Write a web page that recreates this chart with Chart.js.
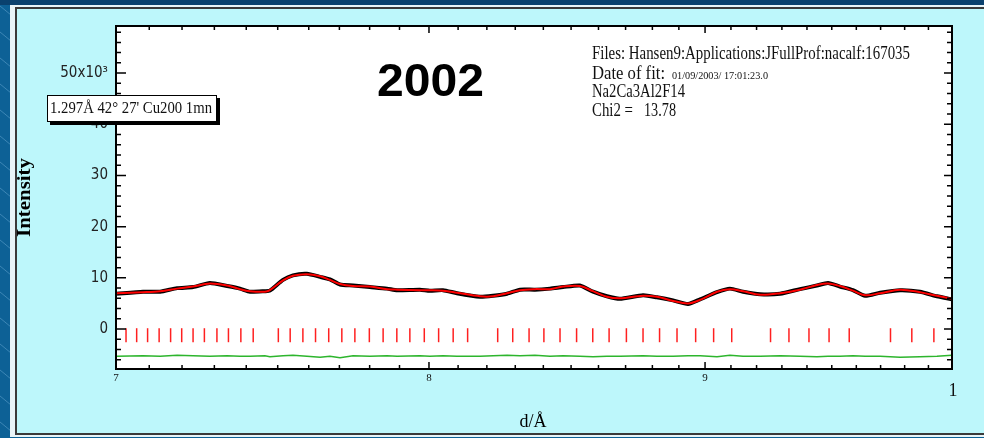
<!DOCTYPE html>
<html>
<head>
<meta charset="utf-8">
<script src="https://cdn.jsdelivr.net/npm/chart.js@4.4.1/dist/chart.umd.min.js"></script>
<style>
  html, body { margin: 0; padding: 0; background: #0d6196; }
  #wrap { width: 984px; height: 438px; }
</style>
</head>
<body>
<div id="wrap"><canvas id="chart" width="984" height="438"></canvas></div>
<script>
// --- data (d in Angstrom, intensity in 10^3 counts) ---
const dValues = [0.7003, 0.7081, 0.7133, 0.7185, 0.7234, 0.7286, 0.7340, 0.7380, 0.7412, 0.7459,
  0.7475, 0.7517, 0.7549, 0.7594, 0.7637, 0.7669, 0.7702, 0.7745, 0.7801, 0.7858,
  0.7892, 0.7969, 0.8003, 0.8048, 0.8096, 0.8176, 0.8222, 0.8271, 0.8317, 0.8370,
  0.8424, 0.8471, 0.8532, 0.8580, 0.8631, 0.8679, 0.8765, 0.8817, 0.8878, 0.8935,
  0.8981, 0.9046, 0.9096, 0.9147, 0.9214, 0.9293, 0.9372, 0.9440, 0.9485, 0.9533,
  0.9586, 0.9636, 0.9698, 0.9781, 0.9864, 0.9936, 1.0000];

const calcValues = [7.0, 7.2, 7.4, 7.9, 8.3, 8.9, 8.5, 7.8, 7.4, 7.3,
  7.6, 9.5, 10.4, 10.7, 10.3, 9.6, 8.8, 8.4, 8.3, 7.8,
  7.7, 7.6, 7.6, 7.5, 7.1, 6.4, 6.4, 7.0, 7.6, 7.8,
  7.8, 8.3, 8.4, 7.4, 6.3, 6.0, 6.5, 6.3, 5.5, 5.0,
  5.7, 7.3, 7.8, 7.4, 6.7, 7.0, 7.7, 8.6, 8.9, 8.4,
  7.5, 6.6, 7.0, 7.7, 7.2, 6.5, 5.9];

const obsValues = [6.9, 7.3, 7.3, 8.0, 8.2, 9.0, 8.4, 7.9, 7.3, 7.4,
  7.5, 9.6, 10.5, 10.8, 10.2, 9.7, 8.7, 8.5, 8.2, 7.9,
  7.6, 7.7, 7.5, 7.6, 7.0, 6.3, 6.5, 6.9, 7.7, 7.7,
  7.9, 8.2, 8.5, 7.3, 6.4, 5.9, 6.6, 6.2, 5.6, 4.9,
  5.8, 7.2, 7.9, 7.3, 6.8, 6.9, 7.8, 8.5, 9.0, 8.3,
  7.6, 6.5, 7.1, 7.6, 7.3, 6.4, 5.8];

const diffValues = [-5.3, -5.2, -5.3, -5.1, -5.2, -5.3, -5.2, -5.3, -5.3, -5.2,
  -5.4, -5.2, -5.1, -5.3, -5.5, -5.3, -5.6, -5.2, -5.3, -5.2,
  -5.3, -5.2, -5.3, -5.2, -5.3, -5.3, -5.2, -5.1, -5.2, -5.1,
  -5.3, -5.2, -5.3, -5.4, -5.3, -5.3, -5.2, -5.3, -5.3, -5.2,
  -5.2, -5.4, -5.1, -5.3, -5.3, -5.2, -5.3, -5.4, -5.3, -5.3,
  -5.2, -5.3, -5.3, -5.5, -5.4, -5.3, -5.1];

// Bragg reflection positions
const braggD = [0.7030, 0.7062, 0.7095, 0.7130, 0.7165, 0.7199, 0.7234, 0.7269, 0.7308, 0.7344,
  0.7383, 0.7422, 0.7502, 0.7540, 0.7581, 0.7622, 0.7665, 0.7708, 0.7751, 0.7799,
  0.7845, 0.7891, 0.7935, 0.7984, 0.8033, 0.8083, 0.8133, 0.8238, 0.8291, 0.8349,
  0.8402, 0.8460, 0.8520, 0.8579, 0.8639, 0.8703, 0.8765, 0.8827, 0.8893, 0.8964,
  0.9033, 0.9103, 0.9255, 0.9328, 0.9408, 0.9489, 0.9571, 0.9741, 0.9830, 0.9923];
const braggLevel = -1.2;

// axes
const xMajorTicks = [0.7, 0.8, 0.9, 1.0];
const xTickLabels = ['7', '8', '9', '1'];
const xMinorTicks = [0.71, 0.72, 0.73, 0.74, 0.75, 0.76, 0.77, 0.78, 0.79,
  0.81, 0.82, 0.83, 0.84, 0.85, 0.86, 0.87, 0.88, 0.89,
  0.91, 0.92, 0.93, 0.94, 0.95, 0.96, 0.97, 0.98, 0.99];
const yTickValues = [0, 10, 20, 30, 40, 50];
const yTickLabels = ['0', '10', '20', '30', '40', '50x10\u00B3'];
const yMinorTicks = [-6, -4, -2, 2, 4, 6, 8, 12, 14, 16, 18, 22, 24, 26, 28,
  32, 34, 36, 38, 42, 44, 46, 48, 52, 54, 56, 58];

const SERIF = "'Liberation Serif', 'DejaVu Serif', serif";

// draw text squeezed to a given width (the original uses a narrow face)
function fitText(ctx, text, x, y, w) {
    const m = ctx.measureText(text).width;
    ctx.save();
    ctx.translate(x, y);
    ctx.scale(w / m, 1);
    ctx.textAlign = 'left';
    ctx.textBaseline = 'alphabetic';
    ctx.fillText(text, 0, 0);
    ctx.restore();
}

const framePlugin = {
    id: 'frame',
    beforeDraw(chart) {
        const ctx = chart.ctx;
        const a = chart.chartArea;
        ctx.save();
        // blue slide background
        ctx.fillStyle = '#0d6196';
        ctx.fillRect(0, 0, 984, 438);
        ctx.strokeStyle = 'rgba(120,180,220,0.45)';
        ctx.lineWidth = 1;
        for (let y = -20; y < 460; y += 26) {
            ctx.beginPath(); ctx.moveTo(0, y); ctx.lineTo(11, y + 9); ctx.stroke();
        }
        ctx.fillStyle = '#0a416e';
        ctx.fillRect(0, 0, 984, 5);
        // white edge + cyan panel
        ctx.fillStyle = '#e8f4f8';
        ctx.fillRect(10, 5, 974, 432);
        ctx.fillStyle = '#bdf7fb';
        ctx.fillRect(15, 8, 969, 427);
        ctx.strokeStyle = '#3a3a3a';
        ctx.lineWidth = 2;
        ctx.beginPath();
        ctx.moveTo(984, 8); ctx.lineTo(16, 8); ctx.lineTo(16, 434); ctx.lineTo(984, 434);
        ctx.stroke();
        // plot area
        ctx.fillStyle = '#ffffff';
        ctx.fillRect(a.left, a.top, a.right - a.left, a.bottom - a.top);
        ctx.restore();
    },
    afterDraw(chart) {
        const ctx = chart.ctx;
        const a = chart.chartArea;
        const xs = chart.scales.x, ys = chart.scales.y;
        ctx.save();
        ctx.strokeStyle = '#000';
        ctx.lineWidth = 2;
        ctx.strokeRect(a.left, a.top, a.right - a.left, a.bottom - a.top);

        // inward tick marks on all four sides
        ctx.lineWidth = 1.5;
        ctx.beginPath();
        xMajorTicks.forEach(v => {
            const px = xs.getPixelForValue(v);
            ctx.moveTo(px, a.bottom); ctx.lineTo(px, a.bottom - 7);
            ctx.moveTo(px, a.top); ctx.lineTo(px, a.top + 7);
        });
        xMinorTicks.forEach(v => {
            const px = xs.getPixelForValue(v);
            ctx.moveTo(px, a.bottom); ctx.lineTo(px, a.bottom - 4);
            ctx.moveTo(px, a.top); ctx.lineTo(px, a.top + 4);
        });
        yTickValues.forEach(v => {
            const py = ys.getPixelForValue(v);
            ctx.moveTo(a.left, py); ctx.lineTo(a.left + 10, py);
            ctx.moveTo(a.right, py); ctx.lineTo(a.right - 8, py);
        });
        yMinorTicks.forEach(v => {
            const py = ys.getPixelForValue(v);
            ctx.moveTo(a.left, py); ctx.lineTo(a.left + 5, py);
            ctx.moveTo(a.right, py); ctx.lineTo(a.right - 5, py);
        });
        ctx.stroke();

        // x tick labels
        ctx.fillStyle = '#111';
        ctx.textAlign = 'center';
        ctx.textBaseline = 'top';
        xMajorTicks.forEach((v, i) => {
            const px = xs.getPixelForValue(v);
            if (i === xMajorTicks.length - 1) {
                ctx.font = '18px ' + SERIF;
                ctx.fillText(xTickLabels[i], px + 1, a.bottom + 13);
            } else {
                ctx.font = '11px ' + SERIF;
                ctx.fillText(xTickLabels[i], px, a.bottom + 4);
            }
        });

        // axis titles
        ctx.fillStyle = '#000';
        ctx.font = '18px ' + SERIF;
        ctx.textAlign = 'center';
        ctx.textBaseline = 'alphabetic';
        ctx.fillText('d/\u00C5', 533, 427);
        ctx.save();
        ctx.translate(30, 237);
        ctx.rotate(-Math.PI / 2);
        ctx.font = 'bold 18px ' + SERIF;
        fitText(ctx, 'Intensity', 0, 0, 79);
        ctx.restore();

        // year label
        ctx.font = 'bold 46px "Liberation Sans", Arial, sans-serif';
        fitText(ctx, '2002', 377, 96, 107);

        // fit info
        ctx.fillStyle = '#111';
        ctx.font = '19px ' + SERIF;
        fitText(ctx, 'Files: Hansen9:Applications:JFullProf:nacalf:167035', 592, 59, 318);
        fitText(ctx, 'Date of fit:', 592, 79, 73);
        fitText(ctx, 'Na2Ca3Al2F14', 592, 97, 93);
        fitText(ctx, 'Chi2 =', 592, 116, 41);
        fitText(ctx, '13.78', 644, 116, 32);
        ctx.font = '10px ' + SERIF;
        fitText(ctx, '01/09/2003/ 17:01:23.0', 672, 79, 96);

        // instrument box with drop shadow
        ctx.fillStyle = '#000';
        ctx.fillRect(50, 98, 170, 27);
        ctx.fillStyle = '#fff';
        ctx.fillRect(47, 95, 170, 27);
        ctx.strokeStyle = '#000';
        ctx.lineWidth = 1;
        ctx.strokeRect(47.5, 95.5, 169, 26);
        ctx.fillStyle = '#111';
        ctx.font = '17px ' + SERIF;
        fitText(ctx, '1.297\u00C5 42\u00B0 27\' Cu200 1mn', 50, 113, 162);
        ctx.restore();
    }
};

const ctx = document.getElementById('chart').getContext('2d');
new Chart(ctx, {
    type: 'line',
    data: {
        datasets: [
            {
                label: 'Calc',
                data: dValues.map((d, i) => ({ x: d, y: calcValues[i] })),
                borderColor: '#ff0000',
                borderWidth: 2,
                tension: 0.35,
                pointRadius: 0
            },
            {
                label: 'Obs',
                data: dValues.map((d, i) => ({ x: d, y: obsValues[i] })),
                borderColor: '#000000',
                borderWidth: 4,
                tension: 0.2,
                pointRadius: 0
            },
            {
                label: 'Bragg',
                data: braggD.map(d => ({ x: d, y: braggLevel })),
                showLine: false,
                pointStyle: 'line',
                rotation: 90,
                pointRadius: 7,
                borderColor: '#ff2020',
                borderWidth: 1.5
            },
            {
                label: 'Obs-Calc',
                data: dValues.map((d, i) => ({ x: d, y: diffValues[i] })),
                borderColor: '#2db52d',
                borderWidth: 1.5,
                tension: 0,
                pointRadius: 0
            }
        ]
    },
    options: {
        responsive: false,
        devicePixelRatio: 1,
        animation: false,
        events: [],
        layout: { padding: { left: 0, right: 32, top: 26, bottom: 39 } },
        plugins: { legend: { display: false }, tooltip: { enabled: false } },
        scales: {
            x: {
                type: 'logarithmic',
                min: 0.7,
                max: 1.0,
                afterBuildTicks: s => { s.ticks = xMajorTicks.map(v => ({ value: v })); },
                afterFit: s => { s.height = 30; },
                ticks: { display: false },
                grid: { display: false, drawTicks: false },
                border: { display: false }
            },
            y: {
                type: 'linear',
                min: -7.8,
                max: 59.2,
                afterBuildTicks: s => { s.ticks = yTickValues.map(v => ({ value: v })); },
                afterFit: s => { s.width = 116; },
                ticks: {
                    callback: (v, i) => yTickLabels[i],
                    color: '#222',
                    padding: 8,
                    font: { family: "'Liberation Sans Narrow', 'DejaVu Sans Condensed', 'Liberation Sans', sans-serif", size: 15 }
                },
                grid: { display: false, drawTicks: false },
                border: { display: false }
            }
        }
    },
    plugins: [framePlugin]
});
</script>
</body>
</html>
